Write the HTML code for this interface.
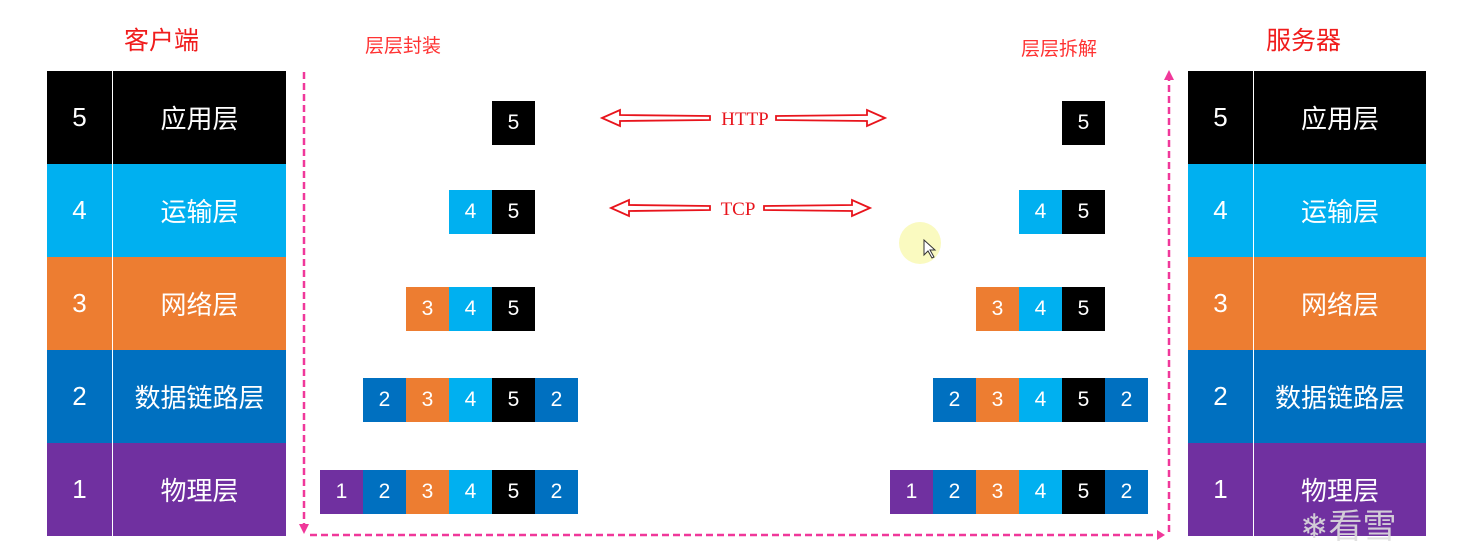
<!DOCTYPE html>
<html><head><meta charset="utf-8"><style>
body{margin:0;width:1463px;height:559px;background:#fff;position:relative;overflow:hidden;font-family:"Liberation Sans","Noto Sans CJK SC",sans-serif}
.a{position:absolute}
.t{position:absolute;color:#fff;display:flex;align-items:center;justify-content:center;font-size:26px}
.b{position:absolute;width:43px;height:44px;color:#fff;display:flex;align-items:center;justify-content:center;font-size:21px}
.k{background:#000}.c{background:#00b0f0}.o{background:#ed7d31}.d{background:#0070c0}.p{background:#7030a0}
.r{color:#f01c1c}
</style></head><body>
<div class="a r" style="left:124px;top:21px;font-size:25px">客户端</div>
<div class="a r" style="left:365px;top:31px;font-size:19px;color:#f33">层层封装</div>
<div class="a r" style="left:1021px;top:34px;font-size:19px;color:#f33">层层拆解</div>
<div class="a r" style="left:1266px;top:21px;font-size:25px">服务器</div>

<div class="t k" style="left:47px;top:71px;width:65px;height:93px">5</div><div class="t k" style="left:113px;top:71px;width:173px;height:93px">应用层</div>
<div class="t c" style="left:47px;top:164px;width:65px;height:93px">4</div><div class="t c" style="left:113px;top:164px;width:173px;height:93px">运输层</div>
<div class="t o" style="left:47px;top:257px;width:65px;height:93px">3</div><div class="t o" style="left:113px;top:257px;width:173px;height:93px">网络层</div>
<div class="t d" style="left:47px;top:350px;width:65px;height:93px">2</div><div class="t d" style="left:113px;top:350px;width:173px;height:93px">数据链路层</div>
<div class="t p" style="left:47px;top:443px;width:65px;height:93px">1</div><div class="t p" style="left:113px;top:443px;width:173px;height:93px">物理层</div>
<div class="t k" style="left:1188px;top:71px;width:65px;height:93px">5</div><div class="t k" style="left:1254px;top:71px;width:172px;height:93px">应用层</div>
<div class="t c" style="left:1188px;top:164px;width:65px;height:93px">4</div><div class="t c" style="left:1254px;top:164px;width:172px;height:93px">运输层</div>
<div class="t o" style="left:1188px;top:257px;width:65px;height:93px">3</div><div class="t o" style="left:1254px;top:257px;width:172px;height:93px">网络层</div>
<div class="t d" style="left:1188px;top:350px;width:65px;height:93px">2</div><div class="t d" style="left:1254px;top:350px;width:172px;height:93px">数据链路层</div>
<div class="t p" style="left:1188px;top:443px;width:65px;height:93px">1</div><div class="t p" style="left:1254px;top:443px;width:172px;height:93px">物理层</div>

<div class="b k" style="left:492px;top:101px">5</div>
<div class="b c" style="left:449px;top:190px">4</div><div class="b k" style="left:492px;top:190px">5</div>
<div class="b o" style="left:406px;top:287px">3</div><div class="b c" style="left:449px;top:287px">4</div><div class="b k" style="left:492px;top:287px">5</div>
<div class="b d" style="left:363px;top:378px">2</div><div class="b o" style="left:406px;top:378px">3</div><div class="b c" style="left:449px;top:378px">4</div><div class="b k" style="left:492px;top:378px">5</div><div class="b d" style="left:535px;top:378px">2</div>
<div class="b p" style="left:320px;top:470px">1</div><div class="b d" style="left:363px;top:470px">2</div><div class="b o" style="left:406px;top:470px">3</div><div class="b c" style="left:449px;top:470px">4</div><div class="b k" style="left:492px;top:470px">5</div><div class="b d" style="left:535px;top:470px">2</div>
<div class="b k" style="left:1062px;top:101px">5</div>
<div class="b c" style="left:1019px;top:190px">4</div><div class="b k" style="left:1062px;top:190px">5</div>
<div class="b o" style="left:976px;top:287px">3</div><div class="b c" style="left:1019px;top:287px">4</div><div class="b k" style="left:1062px;top:287px">5</div>
<div class="b d" style="left:933px;top:378px">2</div><div class="b o" style="left:976px;top:378px">3</div><div class="b c" style="left:1019px;top:378px">4</div><div class="b k" style="left:1062px;top:378px">5</div><div class="b d" style="left:1105px;top:378px">2</div>
<div class="b p" style="left:890px;top:470px">1</div><div class="b d" style="left:933px;top:470px">2</div><div class="b o" style="left:976px;top:470px">3</div><div class="b c" style="left:1019px;top:470px">4</div><div class="b k" style="left:1062px;top:470px">5</div><div class="b d" style="left:1105px;top:470px">2</div>

<svg class="a" style="left:0;top:0" width="1463" height="559">
<g stroke="#f0389a" stroke-width="2.5" stroke-dasharray="7,4" fill="none">
<line x1="304" y1="72" x2="304" y2="526"/>
<line x1="310" y1="535" x2="1160" y2="535"/>
<line x1="1169" y1="532" x2="1169" y2="80"/>
</g>
<polygon points="299,524 309,524 304,534" fill="#f0389a"/>
<polygon points="1157,530 1157,540 1165,535" fill="#f0389a"/>
<polygon points="1164,80 1174,80 1169,70" fill="#f0389a"/>
<circle cx="920" cy="243" r="21" fill="#fafac0"/>
<path d="M924 240 L924 255 L928 251 L932 258 L934 257 L930 250 L935 250 Z" fill="#fff" stroke="#333" stroke-width="1"/>
<g stroke="#e8141c" stroke-width="1.8" fill="#fff">
<path d="M602 118 L620 110 L620 115 L710 116 L710 120 L620 121 L620 126 Z"/>
<path d="M885 118 L867 110 L867 115 L776 116 L776 120 L867 121 L867 126 Z"/>
<path d="M611 208 L629 200 L629 205 L710 206 L710 210 L629 211 L629 216 Z"/>
<path d="M870 208 L852 200 L852 205 L764 206 L764 210 L852 211 L852 216 Z"/>
</g>
<text x="745" y="125" font-family="Liberation Serif,serif" font-size="19" fill="#e8141c" text-anchor="middle">HTTP</text>
<text x="738" y="215" font-family="Liberation Serif,serif" font-size="19" fill="#e8141c" text-anchor="middle">TCP</text>
<text x="1300" y="538" font-size="34" fill="#ddd" fill-opacity="0.9" font-family="Liberation Sans,Noto Sans CJK SC,sans-serif">❄看雪</text>
</svg>
</body></html>
